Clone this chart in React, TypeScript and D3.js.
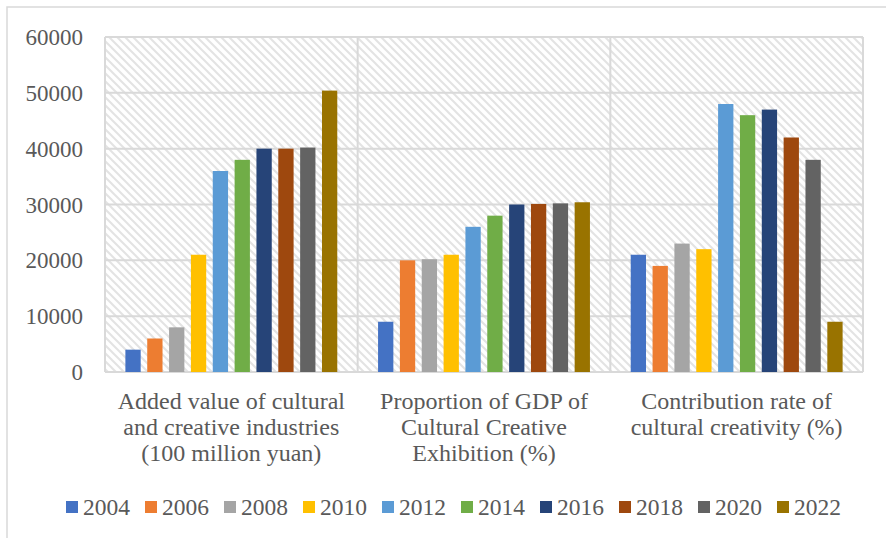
import React from "react";
import * as d3 from "d3";

const categories: string[][] = [
  ["Added value of cultural", "and creative industries", "(100 million yuan)"],
  ["Proportion of GDP of", "Cultural Creative", "Exhibition (%)"],
  ["Contribution rate of", "cultural creativity (%)"],
];
const years = ["2004", "2006", "2008", "2010", "2012", "2014", "2016", "2018", "2020", "2022"];
const colors = ["#4472C4", "#ED7D31", "#A5A5A5", "#FFC000", "#5B9BD5", "#70AD47", "#264478", "#9E480E", "#636363", "#997300"];
const addedValue = [4000, 6000, 8000, 21000, 36000, 38000, 40000, 40000, 40200, 50400];
const gdpShare = [9000, 20000, 20200, 21000, 26000, 28000, 30000, 30100, 30200, 30400];
const contribution = [21000, 19000, 23000, 22000, 48000, 46000, 47000, 42000, 38000, 9000];
const yTicks = [0, 10000, 20000, 30000, 40000, 50000, 60000];

const W = 886, H = 538;
const plot = { left: 105, right: 863, top: 37, bottom: 372 };
const font = "'Liberation Serif', 'Times New Roman', serif";
const textColor = "#595959";
const gridColor = "#d9d9d9";

export default function App() {
  const series = [addedValue, gdpShare, contribution];
  const x0 = d3.scaleBand<number>().domain(d3.range(categories.length)).range([plot.left, plot.right]).paddingInner(0).paddingOuter(0);
  const y = d3.scaleLinear().domain([0, 60000]).range([plot.bottom, plot.top]);
  const B = x0.bandwidth();
  const inner = d3.scaleBand<number>().domain(d3.range(years.length)).range([B * 0.0807, B * (1 - 0.0807)]).paddingInner(0.3).paddingOuter(0);

  return (
    <svg width={W} height={H} style={{ position: "absolute", left: 0, top: 0 }} fontFamily={font}>
      <defs>
        <pattern id="hatch" width="8" height="8" patternUnits="userSpaceOnUse">
          <rect width="8" height="8" fill="#ffffff" />
          <path d="M-2,-2 L10,10 M-2,6 L2,10 M6,-2 L10,2" stroke="#e3e3e3" strokeWidth="2" />
        </pattern>
      </defs>
      <rect x={0} y={0} width={W} height={H} fill="#fff" />
      <rect x={7} y={7} width={W + 10} height={H + 10} fill="none" stroke={gridColor} strokeWidth={1.5} />
      <rect x={plot.left} y={plot.top} width={plot.right - plot.left} height={plot.bottom - plot.top} fill="url(#hatch)" />
      {yTicks.map((t) => (
        <g key={t}>
          <line x1={plot.left} x2={plot.right} y1={y(t)} y2={y(t)} stroke={gridColor} strokeWidth={2} />
          <text x={83} y={y(t)} dy="0.35em" textAnchor="end" fontSize={23} fill={textColor}>{t}</text>
        </g>
      ))}
      {d3.range(categories.length + 1).map((i) => {
        const xx = i < categories.length ? (x0(i) as number) : plot.right;
        return <line key={i} x1={xx} x2={xx} y1={plot.top} y2={plot.bottom} stroke={gridColor} strokeWidth={2} />;
      })}
      {series.map((vals, ci) => (
        <g key={ci} transform={`translate(${x0(ci)},0)`}>
          {vals.map((v, si) => (
            <rect key={si} x={inner(si)} width={inner.bandwidth()} y={y(v)} height={y(0) - y(v)} fill={colors[si]} />
          ))}
        </g>
      ))}
      {categories.map((lines, ci) => (
        <text key={ci} textAnchor="middle" fontSize={24} fill={textColor}>
          {lines.map((l, li) => (
            <tspan key={li} x={(x0(ci) as number) + B / 2} y={409 + li * 26}>{l}</tspan>
          ))}
        </text>
      ))}
      {years.map((yr, i) => {
        const lx = 66 + i * 79;
        return (
          <g key={yr}>
            <rect x={lx} y={501} width={12} height={12} fill={colors[i]} />
            <text x={lx + 17} y={515} fontSize={23.5} fill={textColor}>{yr}</text>
          </g>
        );
      })}
    </svg>
  );
}
